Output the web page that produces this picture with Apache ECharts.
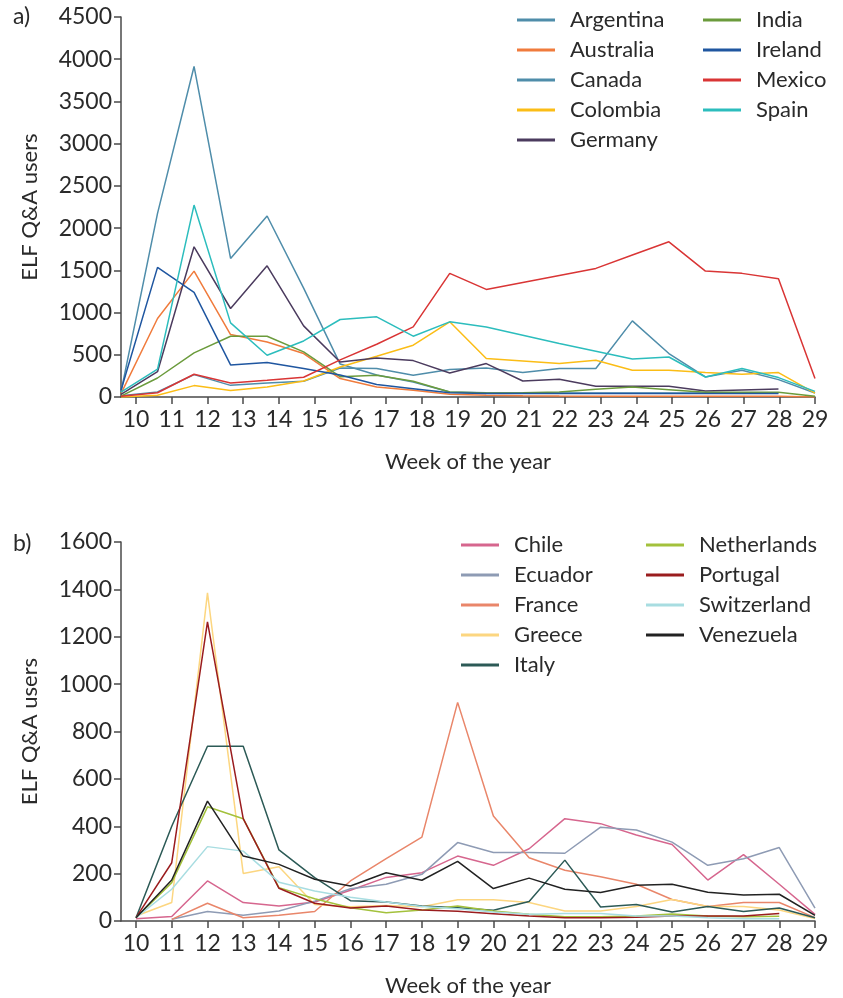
<!DOCTYPE html>
<html>
<head>
<meta charset="utf-8">
<script src="https://cdn.jsdelivr.net/npm/echarts@6/dist/echarts.min.js"></script>
<style>
html,body{margin:0;padding:0;background:#fff;}
#chart{width:843px;height:998px;}
</style>
</head>
<body>
<div id="chart"></div>
<script>
// ---- Data ----
const weeks = [10,11,12,13,14,15,16,17,18,19,20,21,22,23,24,25,26,27,28,29];

// Panel a
const argentina = [60,2175,3914,1641,2143,1290,390,260,178,59,50,48,48,48,48,48,48,48,48,null];
const australia = [40,930,1491,740,652,515,218,119,79,32,20,15,12,10,10,10,10,10,10,0];
const canada    = [15,59,265,138,166,186,343,337,257,325,344,289,337,337,901,515,237,316,206,47];
const colombia  = [0,20,135,76,119,190,356,483,613,890,455,427,396,435,316,316,289,269,289,47];
const germany   = [30,300,1779,1048,1554,842,415,463,431,285,396,190,210,126,126,126,71,83,95,null];
const india     = [10,225,522,720,720,534,240,257,186,59,47,51,59,91,119,87,55,55,55,8];
const ireland   = [80,1535,1238,380,408,337,260,147,99,51,40,40,40,40,40,40,40,40,40,null];
const mexico    = [10,50,269,166,198,234,440,625,830,1464,1274,1357,1440,1523,1681,1838,1491,1464,1400,218];
const spain     = [59,330,2273,878,494,664,918,949,720,890,830,732,633,542,451,474,237,337,230,67];

// Panel b
const chile       = [10,19,169,78,63,80,130,184,204,274,235,305,432,411,363,323,173,280,155,28];
const ecuador     = [null,7,40,24,42,84,136,155,197,331,289,289,286,396,384,333,235,263,310,54];
const france      = [null,7,75,14,24,40,169,263,354,923,443,267,214,187,155,91,61,78,78,14];
const greece      = [21,78,1385,201,229,70,60,65,60,90,90,78,42,42,61,91,61,61,46,10];
const italy       = [14,400,738,738,300,183,86,80,63,56,45,82,257,59,70,38,61,40,55,14];
const netherlands = [14,162,482,432,141,94,56,35,46,63,42,28,18,18,21,30,21,18,20,null];
const portugal    = [14,246,1263,432,138,75,55,63,46,41,31,21,14,14,16,21,21,21,32,null];
const switzerland = [14,134,314,295,164,127,100,80,61,52,38,28,32,32,21,21,14,10,10,null];
const venezuela   = [14,173,506,274,239,176,148,204,172,252,137,181,134,120,151,155,121,110,113,24];

const seriesA = [
  ['Argentina', argentina, '#4f8daa'],
  ['Australia', australia, '#f07b3c'],
  ['Canada', canada, '#4f8daa'],
  ['Colombia', colombia, '#fbbd16'],
  ['Germany', germany, '#4b3b5e'],
  ['India', india, '#6b9b3c'],
  ['Ireland', ireland, '#1f56a0'],
  ['Mexico', mexico, '#d93535'],
  ['Spain', spain, '#2cbdbd']
];
const seriesB = [
  ['Chile', chile, '#d6668e'],
  ['Ecuador', ecuador, '#8e9bb4'],
  ['France', france, '#e9866a'],
  ['Greece', greece, '#fcd680'],
  ['Italy', italy, '#2c5a56'],
  ['Netherlands', netherlands, '#a3c13c'],
  ['Portugal', portugal, '#9a1c1e'],
  ['Switzerland', switzerland, '#a8dde1'],
  ['Venezuela', venezuela, '#222222']
];

const FONT = 'Lato';
const TXT = '#2a2a2a';
const AX = '#4a4a4a';

function displayX(gridIndex) {
  return {
    type: 'value', gridIndex: gridIndex, min: 9.58, max: 29,
    axisLine: {show: true, onZero: false, lineStyle: {color: AX, width: 1.5}},
    axisTick: {show: true, length: 7, customValues: weeks, lineStyle: {color: AX, width: 1.5}},
    axisLabel: {customValues: weeks, fontFamily: FONT, fontSize: 23, color: TXT, margin: 11},
    splitLine: {show: false},
    name: 'Week of the year', nameLocation: 'middle', nameGap: 54,
    nameTextStyle: {fontFamily: FONT, fontSize: 22, color: TXT}
  };
}
function yAx(gridIndex, max, interval) {
  return {
    type: 'value', gridIndex: gridIndex, min: 0, max: max, interval: interval,
    axisLine: {show: true, lineStyle: {color: AX, width: 1.5}},
    axisTick: {show: true, length: 7, lineStyle: {color: AX, width: 1.5}},
    axisLabel: {fontFamily: FONT, fontSize: 23, color: TXT, margin: 9, formatter: v => String(v)},
    splitLine: {show: false},
    name: 'ELF Q&A users', nameLocation: 'middle', nameGap: 80, nameRotate: 90,
    nameTextStyle: {fontFamily: FONT, fontSize: 22, color: TXT}
  };
}

function mkSeries(list, xIdx, yIdx) {
  return list.map(([name, vals, color]) => ({
    name: name, type: 'line', xAxisIndex: xIdx, yAxisIndex: yIdx,
    data: weeks.map((w, i) => [w, vals[i]]),
    symbol: 'none', showSymbol: false, connectNulls: false,
    lineStyle: {color: color, width: 1.5},
    itemStyle: {color: color},
    emphasis: {disabled: true},
    animation: false
  }));
}

function legend(names, left, top) {
  return {
    data: names, orient: 'vertical', left: left, top: top,
    icon: 'rect', itemWidth: 38, itemHeight: 3, itemGap: 8,
    textStyle: {fontFamily: FONT, fontSize: 22, color: TXT, lineHeight: 22, padding: [0,0,0,10]},
    selectedMode: false
  };
}

const option = {
  backgroundColor: '#fff',
  animation: false,
  grid: [
    {left: 121, top: 17, width: 694, height: 380},
    {left: 121, top: 542, width: 694, height: 380}
  ],
  xAxis: [
    displayX(0),
    {type: 'value', gridIndex: 0, min: 10, max: 29, show: false},
    displayX(1)
  ],
  yAxis: [yAx(0, 4500, 500), yAx(1, 1600, 200)],
  legend: [
    legend(['Argentina','Australia','Canada','Colombia','Germany'], 512, 4),
    legend(['India','Ireland','Mexico','Spain'], 698, 4),
    legend(['Chile','Ecuador','France','Greece','Italy'], 456, 529),
    legend(['Netherlands','Portugal','Switzerland','Venezuela'], 641, 529)
  ],
  graphic: [
    {type: 'text', left: 13, top: 5, style: {text: 'a)', font: '23px Lato', fill: TXT}},
    {type: 'text', left: 13, top: 532, style: {text: 'b)', font: '23px Lato', fill: TXT}}
  ],
  series: [].concat(mkSeries(seriesA, 1, 0), mkSeries(seriesB, 2, 1))
};

const chart = echarts.init(document.getElementById('chart'), null, {renderer: 'canvas'});
chart.setOption(option);
</script>
</body>
</html>
